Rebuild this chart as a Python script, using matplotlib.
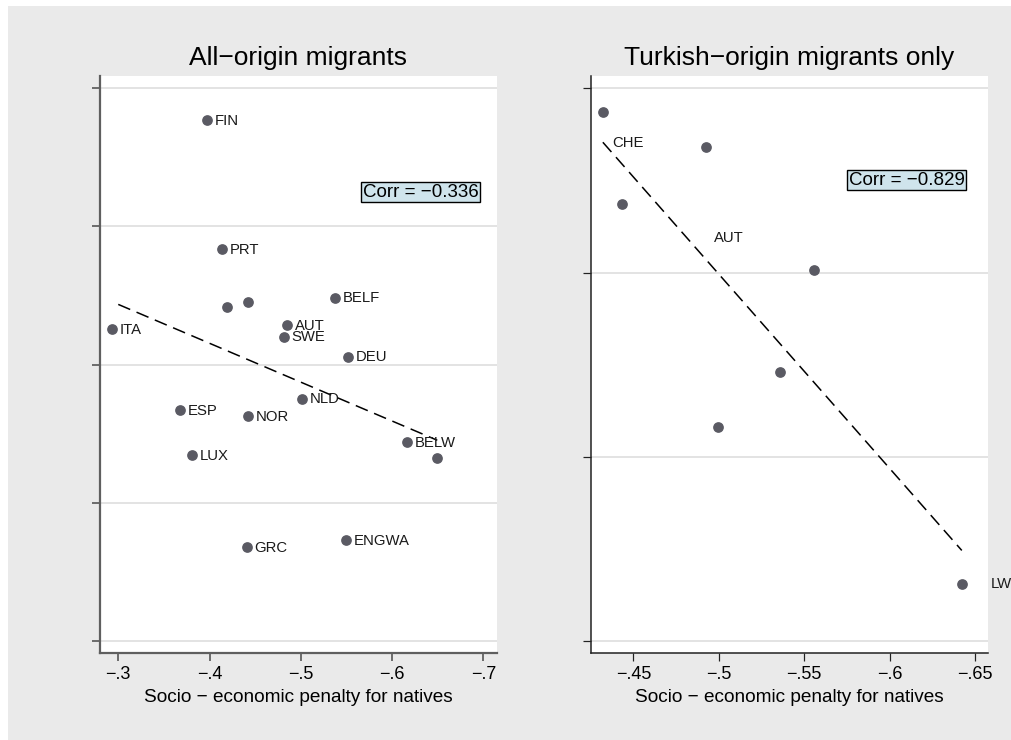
import numpy as np
import matplotlib
matplotlib.use('Agg')
import matplotlib.pyplot as plt
from matplotlib.patches import Rectangle

plt.rcParams['font.family'] = ['Liberation Sans', 'DejaVu Sans']

# left panel: all-origin migrants
all_labels = ['FIN', 'PRT', '', '', 'BELF', 'ITA', 'AUT', 'SWE', 'DEU', 'NLD',
              'ESP', 'NOR', 'BELW', '', 'LUX', 'GRC', 'ENGWA']
all_x = [-0.3975, -0.4136, -0.4194, -0.4424, -0.5377, -0.2934, -0.4848, -0.4815, -0.5516,
         -0.5009, -0.3679, -0.4417, -0.6162, -0.6494, -0.3804, -0.4406, -0.5494]
all_y = [0.377, 0.2834, 0.2419, 0.2455, 0.2484, 0.2255, 0.2287, 0.2202, 0.2057,
         0.1753, 0.1669, 0.1628, 0.144, 0.1322, 0.1346, 0.0678, 0.0731]
all_fit_span = [-0.30, -0.6494]
all_corr = 'Corr = \u22120.336'
all_xticks = [-0.3, -0.4, -0.5, -0.6, -0.7]
all_xticklabels = ['\u2212.3', '\u2212.4', '\u2212.5', '\u2212.6', '\u2212.7']
all_yticks = [0.0, 0.1, 0.2, 0.3, 0.4]

# right panel: turkish-origin migrants
tur_x = [-0.4321, -0.4924, -0.4434, -0.5558, -0.5359, -0.4994, -0.6423]
tur_y = [0.287, 0.2684, 0.2371, 0.2014, 0.1459, 0.1163, 0.0311]
tur_labels = ['CHE', 'AUT', 'LW']
tur_label_x = [-0.4374, -0.4971, -0.6593]
tur_label_y = [0.2702, 0.2190, 0.0309]
tur_corr = 'Corr = \u22120.829'
tur_xticks = [-0.45, -0.5, -0.55, -0.6, -0.65]
tur_xticklabels = ['\u2212.45', '\u2212.5', '\u2212.55', '\u2212.6', '\u2212.65']
tur_yticks = [0.0, 0.1, 0.2, 0.3]

xlabel = 'Socio \u2212 economic penalty for natives'

dot_color = '#5a5a63'
bg_gray = '#eaeaea'


def style_axes(ax, spine_color, spine_w):
    ax.set_facecolor('white')
    ax.spines['top'].set_visible(False)
    ax.spines['right'].set_visible(False)
    for s in ['left', 'bottom']:
        ax.spines[s].set_color(spine_color)
        ax.spines[s].set_linewidth(spine_w)
    ax.tick_params(axis='both', direction='out', length=6, width=spine_w * 0.8,
                   color=spine_color, labelsize=13, pad=3.5)
    ax.tick_params(axis='y', labelleft=False)
    ax.yaxis.grid(True, color='#dedede', linewidth=1.2)
    ax.set_axisbelow(True)
    ax.set_xlabel(xlabel, fontsize=13.7, labelpad=4)


def fit_line(ax, x, y, span):
    b, a = np.polyfit(x, y, 1)
    xs = np.array(span)
    ax.plot(xs, a + b * xs, color='black', linewidth=1.1, linestyle=(0, (8.5, 4.5)))


fig = plt.figure(figsize=(10.11, 7.4), dpi=100, facecolor='white')
fig.patches.append(Rectangle((8 / 1011, 0), 1, 734 / 740, transform=fig.transFigure,
                             facecolor=bg_gray, edgecolor='none', zorder=-10))

##### left panel
ax1 = fig.add_axes([0.0989, 0.1172, 0.3927, 0.7801])
style_axes(ax1, '#5f5f5f', 1.6)
ax1.plot(all_x, all_y, 'o', color=dot_color, markersize=6.7, zorder=3)
for lab, xv, yv in zip(all_labels, all_x, all_y):
    if lab:
        ax1.annotate(lab, (xv, yv), xytext=(5.5, -0.5), textcoords='offset points',
                     ha='left', va='center', fontsize=10.7, color='#1a1a1a')
fit_line(ax1, all_x, all_y, all_fit_span)
ax1.set_xticks(all_xticks)
ax1.set_xticklabels(all_xticklabels)
ax1.set_yticks(all_yticks)
ax1.set_xlim(-0.28, -0.7148)
ax1.set_ylim(-0.0089, 0.4088)
ax1.set_title('All\u2212origin migrants', fontsize=19, pad=8)
ax1.text(0.807, 0.7985, all_corr, transform=ax1.transAxes, ha='center', va='center',
         fontsize=13.5, bbox=dict(boxstyle='square,pad=0.08', facecolor='#cfe4ec',
                                  edgecolor='black', linewidth=1.0))

##### right panel
ax2 = fig.add_axes([0.5843, 0.1172, 0.3927, 0.7801])
style_axes(ax2, '#222222', 1.1)
ax2.plot(tur_x, tur_y, 'o', color=dot_color, markersize=6.7, zorder=3)
for lab, xv, yv in zip(tur_labels, tur_label_x, tur_label_y):
    ax2.text(xv, yv, lab, ha='left', va='center', fontsize=10.7, color='#1a1a1a',
             clip_on=False)
fit_line(ax2, tur_x, tur_y, [max(tur_x), min(tur_x)])
ax2.set_xticks(tur_xticks)
ax2.set_xticklabels(tur_xticklabels)
ax2.set_yticks(tur_yticks)
ax2.set_xlim(-0.425, -0.6575)
ax2.set_ylim(-0.0067, 0.3067)
ax2.set_title('Turkish\u2212origin migrants only', fontsize=19, pad=8)
ax2.text(0.796, 0.819, tur_corr, transform=ax2.transAxes, ha='center', va='center',
         fontsize=13.5, bbox=dict(boxstyle='square,pad=0.08', facecolor='#cfe4ec',
                                  edgecolor='black', linewidth=1.0))

fig.savefig('out.png', dpi=100, facecolor=fig.get_facecolor())
